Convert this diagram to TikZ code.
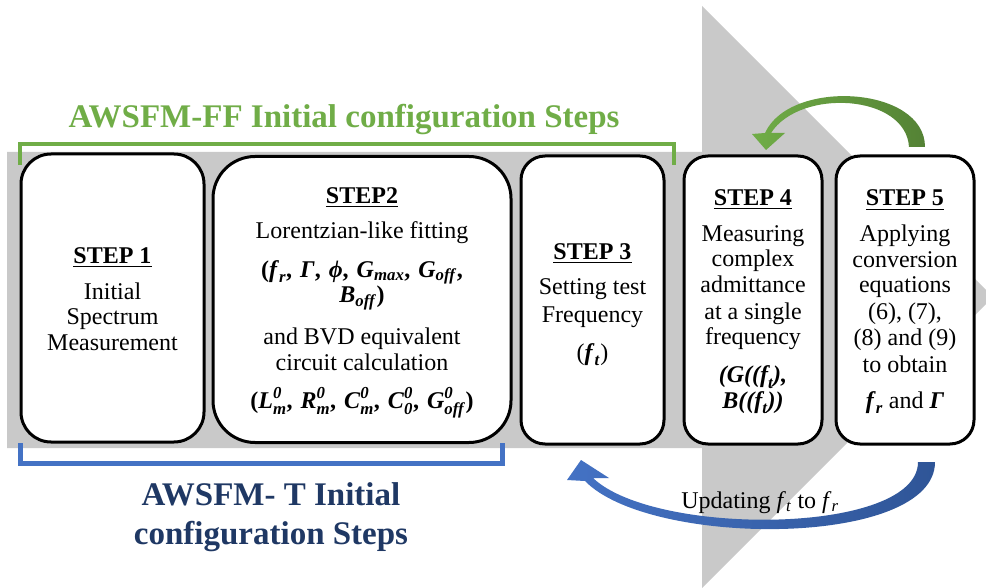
\documentclass[tikz,border=0pt]{standalone}
\usepackage{amsmath}
\usepackage{fontspec}
\setmainfont{Liberation Serif}

\definecolor{bggray}{RGB}{201,201,201}
\definecolor{ffgreen}{RGB}{112,173,71}
\definecolor{ffgreendark}{RGB}{84,130,53}
\definecolor{tblue}{RGB}{68,114,196}
\definecolor{tbluedark}{RGB}{47,85,151}
\definecolor{tnavy}{RGB}{31,56,100}

\newcommand\bimath[1]{\textbf{\textit{#1}}}
\newcommand\psep{,\ \hspace{2pt}}

\tikzset{
  stepbox/.style={draw=black, line width=3pt, fill=white, inner sep=0pt},
  % multi-line nodes: the base anchor sits on the baseline of the last line
  steptext/.style={font=\rmfamily\fontsize{24}{25.5}\selectfont, align=center, anchor=base, inner sep=0pt},
  titletext/.style={font=\rmfamily\fontsize{33}{39}\selectfont\bfseries, align=center, anchor=base, inner sep=0pt},
  ffbracket/.style={draw=ffgreen, line width=4.5pt},
  tbracket/.style={draw=tblue, line width=5pt},
}

\begin{document}
\begin{tikzpicture}[x=1pt, y=-1pt]
  \useasboundingbox (0,0) rectangle (986,588);
  \clip (0,0) rectangle (986,588);
  \fill[white] (0,0) rectangle (986,588);

  % large grey process arrow
  \fill[bggray] (7,152) -- (702,152) -- (702,6) -- (993,297) -- (702,588)
    -- (702,448) -- (7,448) -- cycle;

  % green feedback arrow from step 5 back to step 4
  \shade[left color=ffgreen, right color=ffgreendark]
    (925,147) .. controls (925,86) and (790,78) .. (765,133)
    -- (752,134) -- (766,150) -- (785,133) -- (771,133)
    .. controls (800,88) and (906,94) .. (909,147) -- cycle;

  % step boxes
  \node[stepbox, rounded corners=30pt, minimum width=183pt, minimum height=288pt] (s1) at (112.5,298) {};
  \node[stepbox, rounded corners=42pt, minimum width=298pt, minimum height=286pt] (s2) at (362,299.5) {};
  \node[stepbox, rounded corners=24pt, minimum width=143pt, minimum height=288pt] (s3) at (592.5,300) {};
  \node[stepbox, rounded corners=24pt, minimum width=138pt, minimum height=288pt] (s4) at (753,300) {};
  \node[stepbox, rounded corners=24pt, minimum width=138pt, minimum height=288pt] (s5) at (905,300) {};

  % group brackets
  \draw[ffbracket] (20,165) -- (20,144) -- (674,144) -- (674,165);
  \draw[tbracket] (20,443) -- (20,463) -- (502,463) -- (502,443);

  % blue update arrow from step 5 back to step 3
  \shade[left color=tblue, right color=tbluedark]
    (935,462) .. controls (935,548) and (650,548) .. (585,481)
    -- (567,480) -- (581,460) -- (609,478) -- (593,478)
    .. controls (655,537) and (918,535) .. (918,462) -- cycle;

  % titles
  \node[titletext, text=ffgreen] (fftitle) at (344,128) {AWSFM-FF Initial configuration Steps};
  \node[titletext, text=tnavy] (ttitle) at (271,544) {AWSFM- T Initial\\configuration Steps};

  % step contents
  \node[steptext] (t1) at (112.5,350) {\underline{\textbf{STEP 1}}\\[10.5pt]
    Initial\\ Spectrum\\ Measurement};

  \node[steptext] (t2) at (362,408) {\underline{\textbf{STEP2}}\\[9.5pt]
    Lorentzian-like fitting\\[13.5pt]
    {\bfseries ($\bimath{f}_{\bimath{r}}$\psep\bimath{Γ}\psep\bimath{ϕ}\psep$\bimath{G}_{\bimath{max}}$\psep$\bimath{G}_{\bimath{off}}$,}\\
    {\bfseries $\bimath{B}_{\bimath{off}}$)}\\[16.5pt]
    and BVD equivalent\\
    circuit calculation\\[12.5pt]
    {\bfseries ($\bimath{L}^{\bimath{0}}_{\bimath{m}}$\psep$\bimath{R}^{\bimath{0}}_{\bimath{m}}$\psep$\bimath{C}^{\bimath{0}}_{\bimath{m}}$\psep$\bimath{C}^{\bimath{0}}_{\bimath{0}}$\psep$\bimath{G}^{\bimath{0}}_{\bimath{off}}$)}};

  \node[steptext] (t3) at (592.5,360) {\underline{\textbf{STEP 3}}\\[9.5pt]
    Setting test\\[3pt] Frequency\\[12pt]
    ($\bimath{f}_{\bimath{t}}$)};

  \node[steptext] (t4) at (753,408) {\underline{\textbf{STEP 4}}\\[10.5pt]
    Measuring\\ complex\\ admittance\\[1.5pt] at a single\\ frequency\\[12.5pt]
    {\bfseries\itshape (G(($\bimath{f}_{\bimath{t}}$),}\\
    {\bfseries\itshape B(($\bimath{f}_{\bimath{t}}$))}};

  \node[steptext] (t5) at (905,408) {\underline{\textbf{STEP 5}}\\[10.5pt]
    Applying\\ conversion\\ equations\\[1.5pt] (6), (7),\\ (8) and (9)\\[1.5pt] to obtain\\[10.5pt]
    $\bimath{f}_{\bimath{r}}$ and \bimath{Γ}};

  % label of the update arrow
  \node[font=\rmfamily\fontsize{24}{26}\selectfont, anchor=base, inner sep=0pt] (upd) at (760,508)
    {Updating \textit{f}\textsubscript{\textit{t}} to \textit{f}\textsubscript{\textit{r}}};
\end{tikzpicture}
\end{document}
